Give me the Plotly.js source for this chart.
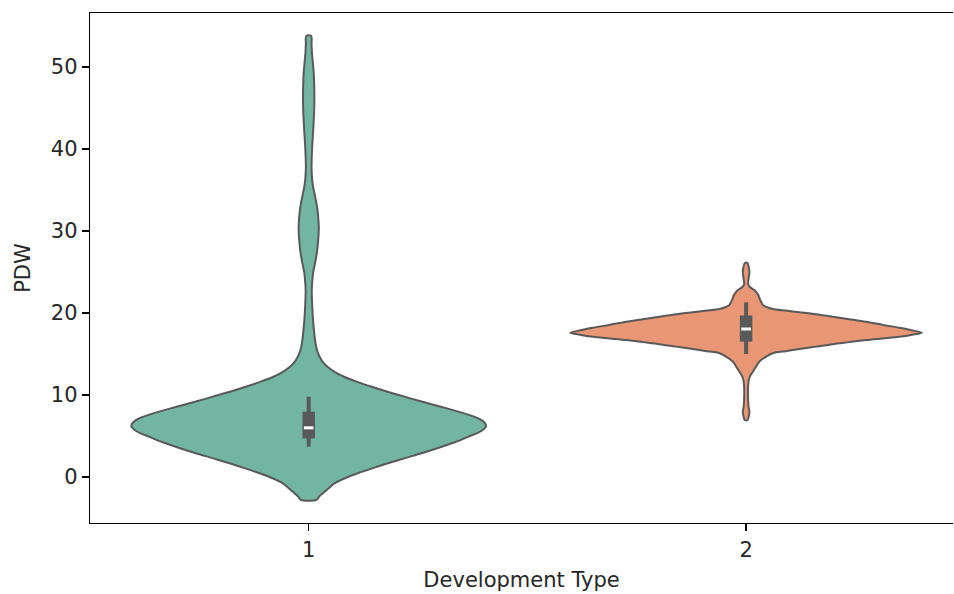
<!DOCTYPE html>
<html>
<head>
<meta charset="utf-8">
<script src="https://cdn.plot.ly/plotly-3.0.1.min.js"></script>
<style>html,body{margin:0;padding:0;background:#fff;}#chart{width:954px;height:594px;}</style>
</head>
<body>
<div id="chart"></div>
<script>
// Categories (Development Type)
const categories = ['1', '2'];

// Violin outline: PDW value vs. half-width (density, in category units)
const g1_pdw = [-2.8, -2.4, -2.0, -1.4, -0.77, -0.15, 0.45, 1.05, 1.67, 2.3, 2.89, 3.5, 4.11, 4.5, 4.9, 5.3, 5.7, 6.1, 6.5, 6.9, 7.3, 7.7, 8.1, 8.6, 9.2, 9.8, 10.4, 11.0, 11.6, 12.2, 12.8, 13.45, 14.05, 14.67, 15.3, 15.9, 16.9, 17.9, 19.1, 20.4, 21.6, 22.8, 23.9, 24.9, 25.7, 26.5, 27.5, 28.5, 29.5, 30.5, 31.5, 32.6, 33.6, 34.6, 35.4, 36.2, 37.0, 37.9, 39.1, 40.3, 41.6, 43.0, 44.7, 46.5, 47.9, 49.3, 50.5, 51.7, 52.8, 53.8];
const g1_width = [0.018, 0.024, 0.032, 0.045, 0.059, 0.083, 0.112, 0.145, 0.181, 0.220, 0.258, 0.294, 0.327, 0.347, 0.364, 0.383, 0.397, 0.405, 0.404, 0.396, 0.381, 0.359, 0.334, 0.300, 0.258, 0.219, 0.180, 0.144, 0.111, 0.082, 0.060, 0.043, 0.032, 0.025, 0.020, 0.017, 0.014, 0.012, 0.010, 0.0085, 0.0075, 0.007, 0.0082, 0.010, 0.013, 0.016, 0.019, 0.021, 0.0225, 0.023, 0.022, 0.020, 0.017, 0.013, 0.010, 0.008, 0.007, 0.0065, 0.007, 0.008, 0.0095, 0.011, 0.0125, 0.013, 0.0125, 0.0115, 0.0095, 0.0075, 0.0065, 0.0057];

const g2_pdw = [6.95, 7.4, 7.96, 8.6, 9.5, 11.0, 11.8, 12.4, 12.8, 13.4, 14.06, 14.6, 15.1, 15.35, 15.6, 15.9, 16.2, 16.45, 16.7, 16.9, 17.1, 17.35, 17.6, 17.9, 18.2, 18.55, 18.94, 19.25, 19.55, 19.85, 20.1, 20.3, 20.5, 20.75, 21.0, 21.3, 21.6, 21.9, 22.2, 22.5, 22.8, 23.0, 23.2, 23.4, 23.6, 24.3, 25.0, 25.6, 26.1];
const g2_width = [0.003, 0.006, 0.0076, 0.0055, 0.0045, 0.0045, 0.006, 0.010, 0.015, 0.022, 0.030, 0.043, 0.061, 0.090, 0.122, 0.160, 0.198, 0.236, 0.274, 0.312, 0.350, 0.380, 0.402, 0.378, 0.351, 0.313, 0.274, 0.236, 0.198, 0.160, 0.122, 0.090, 0.061, 0.046, 0.038, 0.035, 0.032, 0.030, 0.028, 0.024, 0.019, 0.013, 0.008, 0.0055, 0.0045, 0.006, 0.0076, 0.006, 0.003];

// Inner box statistics
const whisker_low = [3.7, 15.0];
const q1 = [4.7, 16.5];
const median = [6.0, 18.05];
const q3 = [7.96, 19.7];
const whisker_high = [9.8, 21.3];

const fills = ['#72b6a1', '#e99675'];
const gray = '#595959';

const groups = [[g1_pdw, g1_width], [g2_pdw, g2_width]];
const traces = [];
groups.forEach(([ys, ws], i) => {
  const xs = ys.map((y, k) => i + ws[k]);
  const xl = ys.map((y, k) => i - ws[k]).reverse();
  const yl = ys.slice().reverse();
  traces.push({
    type: 'scatter', mode: 'lines',
    x: xs.concat(xl, [xs[0]]), y: ys.concat(yl, [ys[0]]),
    fill: 'toself', fillcolor: fills[i],
    line: {color: gray, width: 2, shape: 'spline', smoothing: 0.8},
    hoverinfo: 'skip', showlegend: false
  });
});
categories.forEach((c, i) => {
  traces.push({type: 'scatter', mode: 'lines', x: [i, i], y: [whisker_low[i], whisker_high[i]],
    line: {color: gray, width: 4}, showlegend: false, hoverinfo: 'skip'});
  traces.push({type: 'scatter', mode: 'lines', x: [i, i], y: [q1[i], q3[i]],
    line: {color: gray, width: 12.5}, showlegend: false, hoverinfo: 'skip'});
  traces.push({type: 'scatter', mode: 'lines', x: [i - 0.011, i + 0.011], y: [median[i], median[i]],
    line: {color: '#ffffff', width: 3}, showlegend: false, hoverinfo: 'skip'});
});

const font = {family: 'DejaVu Sans, sans-serif', size: 21, color: '#262626'};
const layout = {
  width: 954, height: 594,
  margin: {l: 90, r: 1, t: 13, b: 71},
  paper_bgcolor: '#ffffff', plot_bgcolor: '#ffffff',
  font: font,
  showlegend: false,
  xaxis: {
    range: [-0.5, 1.473], tickvals: [0, 1], ticktext: categories,
    showgrid: false, zeroline: false,
    showline: true, linecolor: '#000', linewidth: 1.3, mirror: true,
    ticks: 'outside', ticklen: 7, tickwidth: 1.3, tickcolor: '#000',
    tickfont: font,
    title: {text: 'Development Type', font: font, standoff: 11}
  },
  yaxis: {
    range: [-5.61, 56.59], tickvals: [0, 10, 20, 30, 40, 50],
    showgrid: false, zeroline: false,
    showline: true, linecolor: '#000', linewidth: 1.3, mirror: false,
    ticks: 'outside', ticklen: 7, tickwidth: 1.3, tickcolor: '#000',
    tickfont: font,
    title: {text: 'PDW', font: font, standoff: 14}
  }
};
Plotly.newPlot('chart', traces, layout, {displayModeBar: false, staticPlot: true});
</script>
</body>
</html>
